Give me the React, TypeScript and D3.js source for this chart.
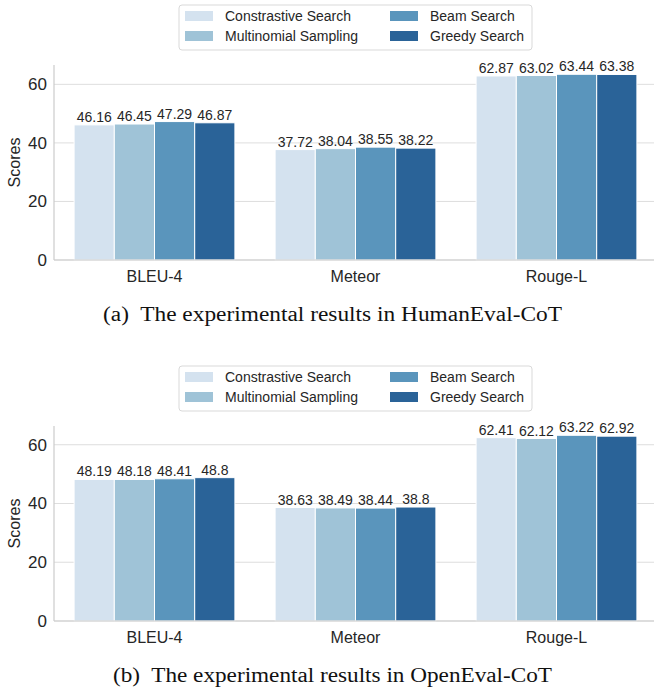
import { useRef, useEffect } from "react";
import * as d3 from "d3";

const categories = ["BLEU-4", "Meteor", "Rouge-L"];
const methods = ["Constrastive Search", "Multinomial Sampling", "Beam Search", "Greedy Search"];
const yTicks = [0, 20, 40, 60];

// HumanEval-CoT
const humanContrastive = [46.16, 37.72, 62.87];
const humanMultinomial = [46.45, 38.04, 63.02];
const humanBeam = [47.29, 38.55, 63.44];
const humanGreedy = [46.87, 38.22, 63.38];

// OpenEval-CoT
const openContrastive = [48.19, 38.63, 62.41];
const openMultinomial = [48.18, 38.49, 62.12];
const openBeam = [48.41, 38.44, 63.22];
const openGreedy = [48.8, 38.8, 62.92];

const COLORS = ["#d4e2ef", "#9fc3d7", "#5a95bc", "#2a6398"];

const panels = [
  {
    caption: "(a)  The experimental results in HumanEval-CoT",
    series: [humanContrastive, humanMultinomial, humanBeam, humanGreedy],
    top: 0,
    capX: 103,
    capLen: 459,
  },
  {
    caption: "(b)  The experimental results in OpenEval-CoT",
    series: [openContrastive, openMultinomial, openBeam, openGreedy],
    top: 361,
    capX: 113,
    capLen: 439,
  },
];

const WIDTH = 654;
const HEIGHT = 692;
const SANS = "'Liberation Sans', Arial, sans-serif";
const SERIF = "'Liberation Serif', 'DejaVu Serif', serif";

export default function App() {
  const svgRef = useRef<SVGSVGElement>(null);

  useEffect(() => {
    if (!svgRef.current) return;
    const svg = d3.select(svgRef.current);
    svg.selectAll("*").remove();
    svg.attr("width", WIDTH).attr("height", HEIGHT);

    panels.forEach((panel) => {
      const g = svg.append("g").attr("transform", `translate(0, ${panel.top})`);
      const plotTop = 65;
      const plotBottom = 260;
      const axisX = 54;

      const maxVal = d3.max(panel.series.flat()) || 0;

      const x0 = d3.scaleBand().domain(categories).range([axisX, axisX + 603]).paddingInner(0.2).paddingOuter(0.1);
      const x1 = d3
        .scaleBand()
        .domain(methods)
        .range([0, x0.bandwidth()]);
      const y = d3.scaleLinear().domain([0, maxVal * 1.05]).range([plotBottom, plotTop]);

      // gridlines
      g.selectAll(".grid")
        .data(yTicks)
        .enter()
        .append("line")
        .attr("x1", axisX)
        .attr("x2", WIDTH)
        .attr("y1", (d) => y(d))
        .attr("y2", (d) => y(d))
        .attr("stroke", "#dedede")
        .attr("stroke-width", 1);

      // bars
      methods.forEach((m, mi) => {
        g.selectAll(`.bar-${mi}`)
          .data(panel.series[mi])
          .enter()
          .append("rect")
          .attr("x", (_, i) => (x0(categories[i]) || 0) + (x1(m) || 0))
          .attr("width", x1.bandwidth())
          .attr("y", (d) => y(d))
          .attr("height", (d) => plotBottom - y(d))
          .attr("fill", COLORS[mi])
          .attr("stroke", "#ffffff")
          .attr("stroke-width", 1);

        g.selectAll(`.value-${mi}`)
          .data(panel.series[mi])
          .enter()
          .append("text")
          .attr("x", (_, i) => (x0(categories[i]) || 0) + (x1(m) || 0) + x1.bandwidth() / 2)
          .attr("y", (d) => y(d) - 3)
          .attr("text-anchor", "middle")
          .attr("fill", "#262626")
          .attr("font-family", SANS)
          .attr("font-size", "14px")
          .text((d) => String(d));
      });

      // spines
      g.append("line")
        .attr("x1", axisX)
        .attr("x2", axisX)
        .attr("y1", plotTop)
        .attr("y2", plotBottom)
        .attr("stroke", "#cccccc")
        .attr("stroke-width", 1.2);
      g.append("line")
        .attr("x1", axisX)
        .attr("x2", WIDTH)
        .attr("y1", plotBottom)
        .attr("y2", plotBottom)
        .attr("stroke", "#cccccc")
        .attr("stroke-width", 1.2);

      // y tick labels
      g.selectAll(".ytick")
        .data(yTicks)
        .enter()
        .append("text")
        .attr("x", axisX - 7)
        .attr("y", (d) => y(d) + 6)
        .attr("text-anchor", "end")
        .attr("fill", "#262626")
        .attr("font-family", SANS)
        .attr("font-size", "17px")
        .text((d) => d);

      // x labels
      g.selectAll(".xlabel")
        .data(categories)
        .enter()
        .append("text")
        .attr("x", (d) => (x0(d) || 0) + x0.bandwidth() / 2)
        .attr("y", plotBottom + 22)
        .attr("text-anchor", "middle")
        .attr("fill", "#262626")
        .attr("font-family", SANS)
        .attr("font-size", "16px")
        .text((d) => d);

      // y axis title
      g.append("text")
        .attr("transform", `translate(20, ${(plotTop + plotBottom) / 2}) rotate(-90)`)
        .attr("text-anchor", "middle")
        .attr("fill", "#262626")
        .attr("font-family", SANS)
        .attr("font-size", "16px")
        .text("Scores");

      // legend
      const legend = g.append("g");
      legend
        .append("rect")
        .attr("x", 179)
        .attr("y", 5)
        .attr("width", 353)
        .attr("height", 45)
        .attr("rx", 3)
        .attr("fill", "#ffffff")
        .attr("fill-opacity", 0.8)
        .attr("stroke", "#d9d9d9");
      const colX = [185, 390];
      const rowY = [16, 36];
      methods.forEach((m, mi) => {
        const cx = colX[Math.floor(mi / 2)];
        const ry = rowY[mi % 2];
        legend
          .append("rect")
          .attr("x", cx)
          .attr("y", ry - 5)
          .attr("width", 28)
          .attr("height", 10)
          .attr("fill", COLORS[mi]);
        legend
          .append("text")
          .attr("x", cx + 40)
          .attr("y", ry + 5)
          .attr("fill", "#262626")
          .attr("font-family", SANS)
          .attr("font-size", "14px")
          .text(m);
      });

      // caption
      g.append("text")
        .attr("x", panel.capX)
        .attr("y", 321)
        .attr("fill", "#111111")
        .attr("font-family", SERIF)
        .attr("font-size", "20px")
        .attr("textLength", panel.capLen)
        .attr("lengthAdjust", "spacingAndGlyphs")
        .attr("xml:space", "preserve")
        .text(panel.caption);
    });
  }, []);

  return (
    <div style={{ position: "absolute", left: 0, top: 0, background: "#ffffff" }}>
      <svg ref={svgRef} style={{ display: "block" }} />
    </div>
  );
}
